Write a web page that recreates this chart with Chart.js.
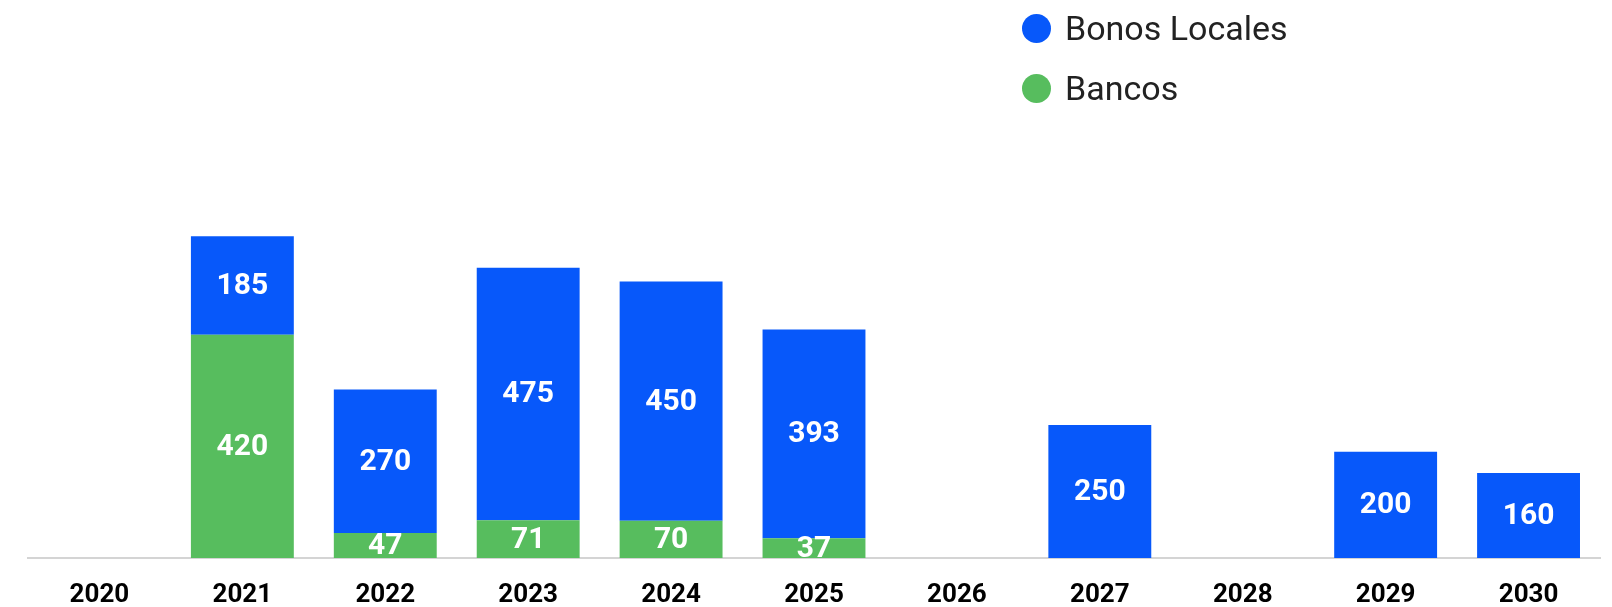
<!DOCTYPE html>
<html>
<head>
<meta charset="utf-8">
<script src="https://cdn.jsdelivr.net/npm/chart.js@4"></script>
<style>
  html, body { margin: 0; padding: 0; background: #fff; overflow: hidden; }
  #wrap { position: relative; width: 1612px; height: 607px; }
  #legend { position: absolute; left: 1022px; top: -2px; font-family: Roboto, sans-serif; font-size: 34px; color: #222; }
  #legend div { display: flex; align-items: center; height: 60px; }
  #legend span.dot { width: 29px; height: 29px; border-radius: 50%; margin-right: 14px; display: inline-block; }
</style>
</head>
<body>
<div id="wrap">
  <canvas id="debtChart" width="1612" height="607"></canvas>
  <div id="legend"></div>
</div>
<script>
const years = ['2020', '2021', '2022', '2023', '2024', '2025', '2026', '2027', '2028', '2029', '2030'];
const bancos = [null, 420, 47, 71, 70, 37, null, null, null, null, null];
const bonosLocales = [null, 185, 270, 475, 450, 393, null, 250, null, 200, 160];

const BLUE = 'rgb(7, 88, 250)';
const GREEN = 'rgb(87, 189, 94)';

// etiquetas blancas dentro de cada barra
const valueLabels = {
  id: 'valueLabels',
  afterDatasetsDraw(chart) {
    const ctx = chart.ctx;
    ctx.save();
    ctx.fillStyle = '#fff';
    ctx.font = 'bold 30px Roboto, sans-serif';
    ctx.textAlign = 'center';
    ctx.textBaseline = 'middle';
    chart.data.datasets.forEach((ds, i) => {
      chart.getDatasetMeta(i).data.forEach((bar, j) => {
        const v = ds.data[j];
        if (v == null) return;
        ctx.fillText(String(v), bar.x, (bar.y + bar.base) / 2 + 1);
      });
    });
    ctx.restore();
  }
};

const ctx = document.getElementById('debtChart').getContext('2d');
const debtChart = new Chart(ctx, {
  type: 'bar',
  data: {
    labels: years,
    datasets: [
      { label: 'Bancos', data: bancos, backgroundColor: GREEN },
      { label: 'Bonos Locales', data: bonosLocales, backgroundColor: BLUE }
    ]
  },
  options: {
    responsive: false,
    animation: false,
    categoryPercentage: 0.8,
    barPercentage: 0.9,
    layout: { padding: { left: 28, right: 12, top: 130, bottom: 0 } },
    plugins: {
      legend: { display: false },
      tooltip: { enabled: false }
    },
    scales: {
      x: {
        stacked: true,
        grid: { display: false, drawTicks: false },
        border: { color: '#d4d4d4', width: 2 },
        ticks: {
          color: '#000',
          padding: 22,
          font: { family: 'Roboto, sans-serif', size: 26, weight: 'bold' }
        },
        afterFit(scale) { scale.height = 49; }
      },
      y: {
        stacked: true,
        display: false,
        min: 0,
        max: 805
      }
    }
  },
  plugins: [valueLabels]
});

// leyenda a la derecha, en columna
const legendEl = document.getElementById('legend');
[['Bonos Locales', BLUE], ['Bancos', GREEN]].forEach(([name, color]) => {
  const row = document.createElement('div');
  row.innerHTML = `<span class="dot" style="background:${color}"></span>${name}`;
  legendEl.appendChild(row);
});
</script>
</body>
</html>
